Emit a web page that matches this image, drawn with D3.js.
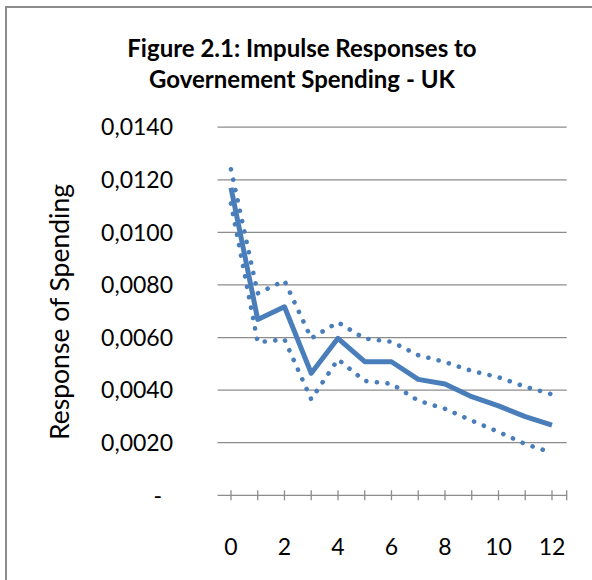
<!DOCTYPE html>
<html>
<head>
<meta charset="utf-8">
<script src="https://cdn.jsdelivr.net/npm/d3@7"></script>
<style>
  html, body { margin: 0; padding: 0; background: #fff; }
  svg { display: block; }
  text { font-family: Lato, "Open Sans", sans-serif; fill: #000; }
</style>
</head>
<body>
<svg id="chart" width="592" height="580"></svg>
<script>
// Periods after the shock
const periods = [0, 1, 2, 3, 4, 5, 6, 7, 8, 9, 10, 11, 12];
// Impulse response of government spending and its confidence band
const response = [0.01170, 0.00669, 0.00717, 0.00464, 0.00597, 0.00508, 0.00508, 0.00441, 0.00423, 0.00375, 0.00340, 0.00299, 0.00267];
const upperBand = [0.01240, 0.00768, 0.00816, 0.00597, 0.00658, 0.00596, 0.00584, 0.00533, 0.00507, 0.00473, 0.00449, 0.00413, 0.00384];
const lowerBand = [0.01110, 0.00582, 0.00593, 0.00365, 0.00517, 0.00435, 0.00424, 0.00360, 0.00329, 0.00284, 0.00241, 0.00195, 0.00162];
const yTicks = [0, 0.002, 0.004, 0.006, 0.008, 0.010, 0.012, 0.014];
const xLabels = [0, 2, 4, 6, 8, 10, 12];
const titleLines = ["Figure 2.1: Impulse Responses to", "Governement Spending - UK"];

const svg = d3.select("#chart");

// Chart frame
svg.append("rect")
  .attr("x", 6).attr("y", 7)
  .attr("width", 620).attr("height", 620)
  .attr("fill", "none").attr("stroke", "#8c8c8c").attr("stroke-width", 2);

const x = d3.scaleLinear().domain([-0.5, 12.55]).range([217.6, 566.7]);
const y = d3.scaleLinear().domain([0, 0.014]).range([495.3, 127.2]);

// Title
svg.append("g").selectAll("text").data(titleLines).join("text")
  .attr("x", 302).attr("y", (d, i) => 57 + i * 31)
  .attr("text-anchor", "middle")
  .style("font-size", "24px").style("font-weight", "bold")
  .text(d => d);

// Horizontal gridlines
svg.append("g").selectAll("line").data(yTicks.filter(v => v > 0)).join("line")
  .attr("x1", x.range()[0]).attr("x2", x.range()[1])
  .attr("y1", d => y(d)).attr("y2", d => y(d))
  .attr("stroke", "#8c8c8c").attr("stroke-width", 1.3);

// Y tick labels
const fmt = v => v === 0 ? "-" : d3.format(".4f")(v).replace(".", ",");
svg.append("g").selectAll("text").data(yTicks).join("text")
  .attr("x", d => d === 0 ? 162 : 173).attr("y", d => y(d))
  .attr("dy", "0.36em")
  .attr("text-anchor", "end")
  .style("font-size", "23px")
  .text(fmt);

// Y axis title
svg.append("text")
  .attr("transform", "translate(69,312) rotate(-90)")
  .attr("text-anchor", "middle")
  .style("font-size", "26.5px")
  .text("Response of Spending");

// X axis with ticks
const xAxis = svg.append("g");
xAxis.append("line")
  .attr("x1", x.range()[0]).attr("x2", x.range()[1])
  .attr("y1", y(0)).attr("y2", y(0))
  .attr("stroke", "#8c8c8c").attr("stroke-width", 1.3);
xAxis.selectAll("line.tick").data(periods.concat([12.55])).join("line")
  .attr("class", "tick")
  .attr("x1", d => x(d)).attr("x2", d => x(d))
  .attr("y1", y(0) - 5).attr("y2", y(0) + 5)
  .attr("stroke", "#8c8c8c").attr("stroke-width", 1.3);
xAxis.selectAll("text").data(xLabels).join("text")
  .attr("x", d => x(d)).attr("y", 555)
  .attr("text-anchor", "middle")
  .style("font-size", "23px")
  .text(d => d);

const line = d3.line().x((d, i) => x(periods[i])).y(d => y(d));
const blue = "#4a7ebb";

// Confidence band (dotted)
[upperBand, lowerBand].forEach(series => {
  svg.append("path")
    .attr("d", line(series))
    .attr("fill", "none")
    .attr("stroke", blue).attr("stroke-width", 4.6)
    .attr("stroke-linecap", "round")
    .attr("stroke-dasharray", "0.1 10.5");
});

// Point estimate
svg.append("path")
  .attr("d", line(response))
  .attr("fill", "none")
  .attr("stroke", blue).attr("stroke-width", 5)
  .attr("stroke-linejoin", "round");
</script>
</body>
</html>
